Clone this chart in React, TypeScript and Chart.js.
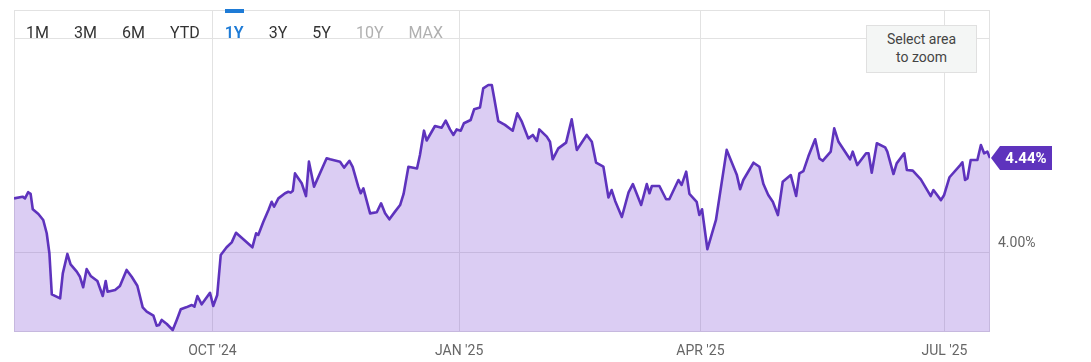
import React, { useEffect, useRef } from "react";
import { Chart, registerables } from "chart.js";

Chart.register(...registerables);

// Days since 19 Jul 2024
const dayOffsets = [
  0, 3.2, 4.1, 5.3, 6.2, 7.0, 9.1, 10.9, 12.2, 13.2, 14.1, 17.2, 18.2, 19.9, 21.1, 23.4, 24.6, 25.8, 27.1, 28.6,
  31.1, 33.1, 34.2, 34.9, 37.7, 39.5, 42.0, 43.9, 46.0, 48.0, 49.5, 52.0, 53.2, 54.1, 55.1, 57.0, 59.2, 60.7, 62.2, 64.2,
  66.3, 67.3, 68.4, 70.0, 73.1, 74.3, 75.8, 77.1, 79.3, 81.2, 82.8, 88.9, 90.3, 91.1, 93.0, 94.9, 96.1, 97.0, 98.6, 101.1,
  102.3, 103.2, 104.0, 104.8, 107.3, 108.9, 110.0, 111.9, 116.6, 117.9, 121.6, 123.1, 125.1, 126.3, 128.4, 129.3, 130.3, 132.8, 135.3, 136.9,
  138.4, 140.0, 142.1, 144.0, 145.3, 147.1, 150.3, 151.4, 152.9, 153.9, 157.0, 159.5, 161.0, 162.6, 163.9, 165.1, 166.6, 167.8, 170.3, 171.6,
  173.8, 175.0, 176.9, 178.2, 179.0, 180.6, 183.1, 186.0, 187.7, 189.4, 191.8, 193.5, 195.0, 195.9, 198.7, 199.9, 200.9, 203.0, 205.9, 208.0,
  209.9, 213.6, 215.5, 217.1, 219.8, 221.7, 222.9, 224.2, 226.7, 229.2, 230.8, 233.9, 236.0, 237.0, 237.9, 240.7, 243.2, 244.4, 247.8, 249.0,
  250.7, 251.9, 254.6, 255.6, 256.6, 258.6, 261.8, 265.8, 269.6, 270.8, 272.0, 275.8, 278.0, 279.5, 281.3, 283.0, 284.9, 286.7, 289.7, 291.7,
  292.9, 294.4, 296.3, 298.8, 300.4, 301.6, 304.6, 305.9, 307.5, 311.8, 312.8, 314.5, 317.8, 318.7, 319.9, 321.8, 324.9, 325.7, 328.0, 329.2,
  332.0, 333.0, 335.2, 338.2, 341.9, 342.9, 345.7, 346.9, 348.9, 352.9, 353.7, 354.7, 355.6, 356.8, 359.3, 360.6, 361.8, 363.0, 364.0,
];

// 10-year yield, percent
const yields = [
  4.251, 4.259, 4.251, 4.28, 4.272, 4.2, 4.178, 4.15, 4.088, 3.994, 3.802, 3.783, 3.9, 3.991, 3.942, 3.908, 3.884, 3.835, 3.92, 3.888,
  3.864, 3.794, 3.864, 3.814, 3.822, 3.841, 3.916, 3.884, 3.842, 3.741, 3.721, 3.702, 3.655, 3.658, 3.682, 3.663, 3.635, 3.682, 3.732, 3.741,
  3.752, 3.744, 3.794, 3.755, 3.809, 3.747, 3.799, 3.986, 4.022, 4.045, 4.09, 4.022, 4.088, 4.08, 4.142, 4.197, 4.235, 4.212, 4.251, 4.275,
  4.282, 4.278, 4.287, 4.368, 4.322, 4.262, 4.423, 4.306, 4.439, 4.434, 4.423, 4.395, 4.427, 4.399, 4.306, 4.275, 4.298, 4.181, 4.186, 4.228,
  4.181, 4.153, 4.189, 4.22, 4.272, 4.399, 4.391, 4.454, 4.568, 4.522, 4.59, 4.582, 4.615, 4.574, 4.548, 4.574, 4.568, 4.603, 4.618, 4.668,
  4.677, 4.766, 4.782, 4.782, 4.727, 4.613, 4.595, 4.568, 4.649, 4.61, 4.532, 4.548, 4.52, 4.574, 4.54, 4.516, 4.434, 4.485, 4.512, 4.621,
  4.478, 4.548, 4.516, 4.418, 4.4, 4.255, 4.29, 4.239, 4.164, 4.279, 4.318, 4.22, 4.318, 4.275, 4.309, 4.309, 4.247, 4.247, 4.337, 4.314,
  4.376, 4.272, 4.235, 4.173, 4.2, 4.013, 4.15, 4.478, 4.36, 4.294, 4.337, 4.418, 4.399, 4.318, 4.267, 4.235, 4.173, 4.329, 4.36, 4.262,
  4.368, 4.379, 4.449, 4.528, 4.438, 4.427, 4.47, 4.579, 4.516, 4.434, 4.47, 4.407, 4.462, 4.462, 4.371, 4.509, 4.49, 4.47, 4.365, 4.415,
  4.462, 4.384, 4.381, 4.34, 4.262, 4.29, 4.243, 4.267, 4.35, 4.407, 4.42, 4.337, 4.345, 4.431, 4.431, 4.501, 4.462, 4.47, 4.44,
];

const xTickDays = [74, 166, 256, 347];
const xTickLabels = ["OCT '24", "JAN '25", "APR '25", "JUL '25"];
const yTickValues = [4, 5];
const yTickLabels = ["4.00%", ""];
const rangeButtons = ["1M", "3M", "6M", "YTD", "1Y", "3Y", "5Y", "10Y", "MAX"];
const activeRange = "1Y";
const disabledRanges = ["10Y", "MAX"];
const zoomHint = ["Select area", "to zoom"];

const LINE = "#5e33bd";
const FILL = "rgba(124, 77, 212, 0.28)";
const GRID = "#e2e2e2";
const FONT = "Roboto, 'Noto Sans', sans-serif";

const framePlugin = {
  id: "frame",
  beforeDatasetsDraw(chart: any) {
    const { ctx, chartArea: a } = chart;
    ctx.save();
    ctx.strokeStyle = GRID;
    ctx.lineWidth = 1;
    ctx.strokeRect(a.left + 0.5, a.top + 0.5, a.right - a.left - 1, a.bottom - a.top - 1);
    ctx.restore();
  },
};

const tagPlugin = {
  id: "lastTag",
  afterDraw(chart: any) {
    const { ctx } = chart;
    const xs = chart.scales.x;
    const ys = chart.scales.y;
    const last = yields[yields.length - 1];
    const yc = ys.getPixelForValue(last);
    const tip = xs.getPixelForValue(dayOffsets[dayOffsets.length - 1]) + 1;
    const h = 12;
    const left = tip + 9;
    const right = left + 52;
    ctx.save();
    ctx.fillStyle = LINE;
    ctx.beginPath();
    ctx.moveTo(tip, yc);
    ctx.lineTo(left, yc - h);
    ctx.lineTo(right, yc - h);
    ctx.lineTo(right, yc + h);
    ctx.lineTo(left, yc + h);
    ctx.closePath();
    ctx.fill();
    ctx.fillStyle = "#ffffff";
    ctx.font = `bold 15px ${FONT}`;
    ctx.textAlign = "center";
    ctx.textBaseline = "middle";
    ctx.fillText(last.toFixed(2) + "%", (left + right) / 2, yc + 1);
    ctx.restore();
  },
};

export default function App() {
  const canvasRef = useRef<HTMLCanvasElement | null>(null);

  useEffect(() => {
    const canvas = canvasRef.current;
    if (!canvas) return;
    const chart = new Chart(canvas, {
      type: "line",
      data: {
        datasets: [
          {
            data: dayOffsets.map((d, i) => ({ x: d, y: yields[i] })),
            borderColor: LINE,
            borderWidth: 2.6,
            backgroundColor: FILL,
            fill: "start",
            pointRadius: 0,
            tension: 0,
            borderJoinStyle: "round",
          },
        ],
      },
      options: {
        animation: false,
        responsive: false,
        devicePixelRatio: 1,
        layout: { padding: { left: 14, top: 10, right: 0, bottom: 0 } },
        plugins: {
          legend: { display: false },
          tooltip: { enabled: false },
        },
        scales: {
          x: {
            type: "linear",
            min: 0,
            max: 364,
            afterBuildTicks: (scale: any) => {
              scale.ticks = xTickDays.map((v) => ({ value: v }));
            },
            afterFit: (scale: any) => {
              scale.height = 30;
              scale.paddingLeft = 0;
              scale.paddingRight = 0;
            },
            grid: { color: GRID, drawTicks: false, lineWidth: 1 },
            border: { display: false },
            ticks: {
              autoSkip: false,
              maxRotation: 0,
              padding: 11,
              color: "#666666",
              font: { family: FONT, size: 14 },
              callback: (_v: any, i: number) => xTickLabels[i],
            },
          },
          y: {
            type: "linear",
            position: "right",
            min: 3.6255,
            max: 5.133,
            afterBuildTicks: (scale: any) => {
              scale.ticks = yTickValues.map((v) => ({ value: v }));
            },
            afterFit: (scale: any) => {
              scale.width = 101;
              scale.paddingTop = 0;
              scale.paddingBottom = 0;
            },
            grid: { color: GRID, drawTicks: false, lineWidth: 1 },
            border: { display: false },
            ticks: {
              padding: 8,
              labelOffset: -9,
              color: "#666666",
              font: { family: FONT, size: 14 },
              callback: (_v: any, i: number) => yTickLabels[i],
            },
          },
        },
      },
      plugins: [framePlugin, tagPlugin],
    } as any);
    return () => chart.destroy();
  }, []);

  return (
    <div
      style={{
        position: "fixed",
        left: 0,
        top: 0,
        width: 1091,
        height: 362,
        background: "#ffffff",
        fontFamily: FONT,
        overflow: "hidden",
      }}
    >
      <canvas ref={canvasRef} width={1091} height={362} style={{ display: "block" }} />
      <div
        style={{
          position: "absolute",
          left: 26,
          top: 24,
          display: "flex",
          gap: 25,
          fontSize: 16,
          lineHeight: "18px",
        }}
      >
        {rangeButtons.map((r) => {
          const active = r === activeRange;
          const disabled = disabledRanges.includes(r);
          return (
            <div
              key={r}
              style={{
                position: "relative",
                color: active ? "#1e7bd6" : disabled ? "#b0b0b0" : "#333333",
                fontWeight: active ? 600 : 400,
              }}
            >
              {active && (
                <div
                  style={{
                    position: "absolute",
                    left: 0,
                    right: 0,
                    top: -15,
                    height: 4,
                    background: "#1e7bd6",
                  }}
                />
              )}
              {r}
            </div>
          );
        })}
      </div>
      <div
        style={{
          position: "absolute",
          left: 866,
          top: 25,
          width: 109,
          height: 44,
          background: "#f4f6f5",
          border: "1px solid #e0e0e0",
          display: "flex",
          flexDirection: "column",
          alignItems: "center",
          justifyContent: "center",
          fontSize: 14,
          lineHeight: "18px",
          color: "#444444",
          paddingBottom: 2,
          boxSizing: "content-box",
        }}
      >
        {zoomHint.map((t) => (
          <div key={t}>{t}</div>
        ))}
      </div>
    </div>
  );
}
